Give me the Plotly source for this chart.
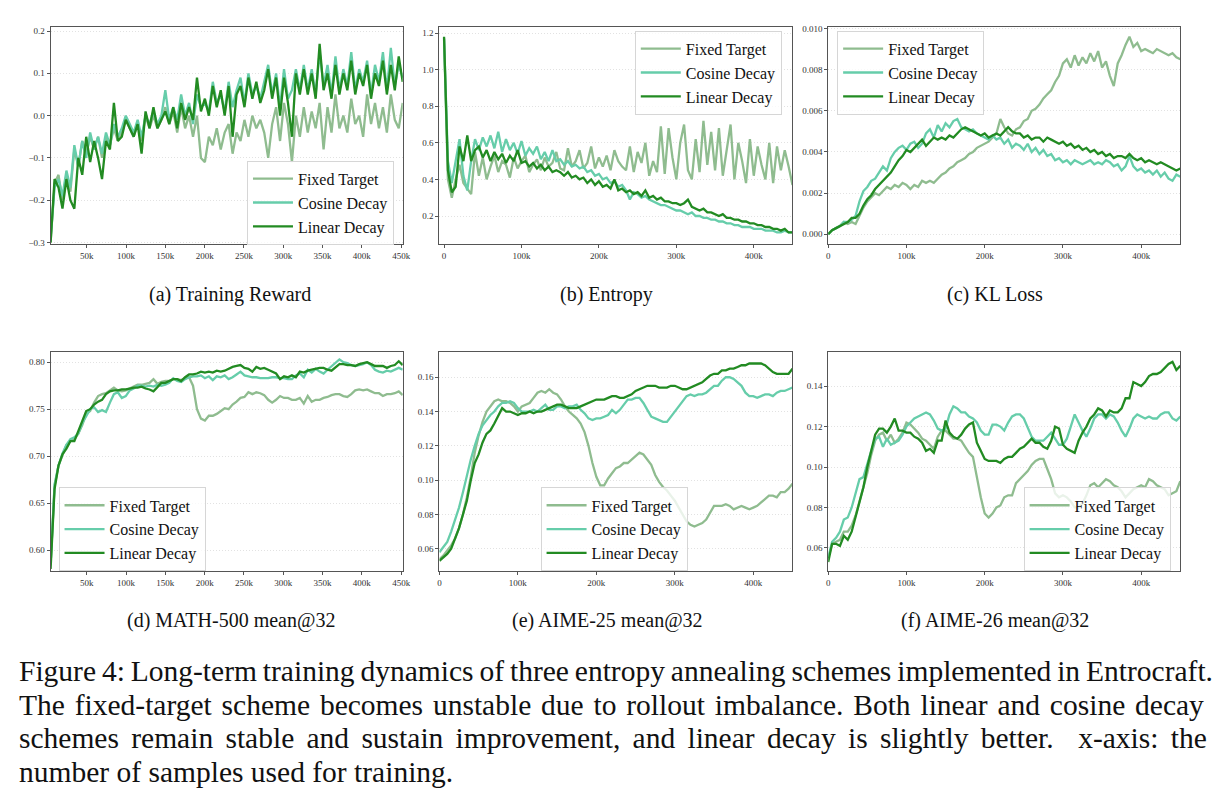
import numpy as np
import plotly.graph_objects as go

# ---------------- data ----------------
labels = ["Fixed Target", "Cosine Decay", "Linear Decay"]
colors = ["#8fbc8f", "#66cdaa", "#228b22"]

# (a) Training Reward, samples 4k..452k
reward_fixed = [-0.30, -0.16, -0.14, -0.20, -0.14, -0.18, -0.08, -0.12, -0.06, -0.09,
                -0.05, -0.08, -0.05, -0.10, -0.05, -0.07, -0.03, -0.06, -0.04, -0.01,
                -0.03, -0.05, -0.02, -0.06, 0.00, -0.03, 0.00, -0.03, -0.01, 0.02,
                -0.02, 0.01, -0.04, 0.02, -0.03, 0.00, -0.05, 0.00, -0.10, -0.11,
                -0.05, -0.07, -0.03, -0.08, -0.04, -0.02, -0.09, -0.04, -0.06, -0.01,
                -0.05, 0.00, -0.03, -0.01, -0.04, -0.10, -0.02, 0.02, -0.06, 0.03,
                -0.02, -0.11, 0.00, -0.05, 0.02, -0.04, 0.01, -0.03, 0.03, -0.08,
                0.02, -0.04, 0.05, -0.03, 0.00, -0.04, 0.04, -0.02, 0.00, -0.05,
                0.05, -0.02, 0.03, -0.03, 0.02, -0.04, 0.05, -0.01, -0.03, 0.03]
reward_cosine = [-0.29, -0.17, -0.15, -0.19, -0.13, -0.17, -0.07, -0.12, -0.06, -0.10,
                 -0.04, -0.08, -0.05, -0.09, -0.04, -0.07, -0.02, -0.05, -0.03, 0.00,
                 -0.02, -0.04, -0.01, -0.05, 0.00, -0.02, 0.01, -0.02, 0.00, 0.06,
                 -0.01, 0.02, -0.01, 0.05, 0.00, 0.03, -0.02, 0.05, 0.02, 0.03,
                 0.01, 0.08, 0.03, 0.05, 0.01, 0.08, 0.02, 0.06, 0.09, 0.03,
                 0.10, 0.05, 0.07, 0.04, 0.08, 0.12, 0.05, 0.10, 0.02, 0.11,
                 0.04, 0.06, 0.11, 0.06, 0.12, 0.06, 0.11, 0.05, 0.15, 0.07,
                 0.12, 0.05, 0.14, 0.06, 0.11, 0.07, 0.15, 0.06, 0.11, 0.08,
                 0.13, 0.05, 0.12, 0.08, 0.15, 0.06, 0.16, 0.07, 0.12, 0.09]
reward_linear = [-0.30, -0.15, -0.17, -0.22, -0.15, -0.20, -0.22, -0.10, -0.14, -0.05,
                 -0.11, -0.06, -0.10, -0.15, -0.06, -0.08, 0.03, -0.06, -0.05, -0.01,
                 -0.03, -0.05, -0.02, -0.09, 0.01, -0.03, 0.02, -0.03, -0.01, 0.01,
                 -0.02, 0.02, -0.03, 0.03, -0.01, 0.02, -0.01, 0.09, 0.01, 0.04,
                 0.00, 0.07, 0.02, 0.06, 0.00, 0.07, -0.05, 0.05, 0.07, 0.02,
                 0.09, 0.04, 0.08, 0.03, 0.06, 0.11, 0.04, 0.09, 0.00, 0.09,
                 0.03, -0.05, 0.10, 0.05, 0.11, 0.05, 0.10, 0.04, 0.17, 0.06,
                 0.10, 0.04, 0.12, 0.05, 0.10, 0.06, 0.13, 0.05, 0.10, 0.07,
                 0.12, 0.04, 0.10, 0.07, 0.13, 0.05, 0.12, 0.06, 0.14, 0.08]

# (b) Entropy, samples 0..450k
entropy_fixed = [1.17, 0.40, 0.30, 0.40, 0.48, 0.38, 0.35, 0.32, 0.55, 0.42,
                 0.52, 0.40, 0.47, 0.53, 0.44, 0.50, 0.48, 0.41, 0.52, 0.46,
                 0.50, 0.53, 0.44, 0.48, 0.51, 0.45, 0.52, 0.47, 0.49, 0.55,
                 0.46, 0.45, 0.57, 0.47, 0.50, 0.56, 0.46, 0.49, 0.58, 0.46,
                 0.52, 0.47, 0.53, 0.45, 0.56, 0.50, 0.47, 0.45, 0.58, 0.44,
                 0.55, 0.49, 0.60, 0.42, 0.50, 0.44, 0.69, 0.43, 0.68, 0.52,
                 0.40, 0.60, 0.70, 0.45, 0.40, 0.62, 0.44, 0.72, 0.48, 0.66,
                 0.45, 0.68, 0.42, 0.55, 0.70, 0.40, 0.60, 0.50, 0.38, 0.62,
                 0.42, 0.58, 0.48, 0.40, 0.60, 0.38, 0.58, 0.45, 0.56, 0.47, 0.37]
entropy_cosine = [1.17, 0.50, 0.38, 0.50, 0.62, 0.42, 0.34, 0.50, 0.62, 0.56,
                  0.63, 0.58, 0.64, 0.57, 0.66, 0.55, 0.62, 0.56, 0.60, 0.54,
                  0.61, 0.53, 0.57, 0.54, 0.58, 0.51, 0.55, 0.50, 0.56, 0.50,
                  0.51, 0.48, 0.50, 0.47, 0.48, 0.46, 0.47, 0.44, 0.45, 0.42,
                  0.43, 0.40, 0.41, 0.38, 0.39, 0.36, 0.37, 0.34, 0.29, 0.33,
                  0.32, 0.30, 0.31, 0.29, 0.28, 0.27, 0.26, 0.26, 0.25, 0.24,
                  0.23, 0.23, 0.22, 0.21, 0.22, 0.20, 0.20, 0.19, 0.19, 0.18,
                  0.18, 0.17, 0.17, 0.16, 0.16, 0.15, 0.15, 0.14, 0.14, 0.14,
                  0.13, 0.13, 0.13, 0.12, 0.12, 0.12, 0.11, 0.11, 0.12, 0.11, 0.11]
entropy_linear = [1.18, 0.45, 0.33, 0.36, 0.58, 0.50, 0.64, 0.50, 0.56, 0.58,
                  0.52, 0.56, 0.50, 0.55, 0.51, 0.54, 0.49, 0.53, 0.50, 0.56,
                  0.49, 0.50, 0.47, 0.49, 0.46, 0.48, 0.45, 0.47, 0.44, 0.45,
                  0.44, 0.42, 0.44, 0.41, 0.42, 0.40, 0.41, 0.38, 0.40, 0.37,
                  0.39, 0.36, 0.37, 0.35, 0.40, 0.34, 0.35, 0.33, 0.34, 0.32,
                  0.33, 0.31, 0.34, 0.30, 0.31, 0.29, 0.30, 0.28, 0.28, 0.27,
                  0.27, 0.26, 0.27, 0.29, 0.25, 0.24, 0.23, 0.24, 0.22, 0.22,
                  0.21, 0.20, 0.21, 0.19, 0.19, 0.18, 0.18, 0.17, 0.17, 0.16,
                  0.16, 0.15, 0.15, 0.14, 0.14, 0.13, 0.13, 0.12, 0.13, 0.11, 0.11]

# (c) KL Loss, samples 0..450k
kl_fixed = [0.0000, 0.0002, 0.0003, 0.0004, 0.0006, 0.0005, 0.0006, 0.0005, 0.0009, 0.0013,
            0.0016, 0.0018, 0.0020, 0.0019, 0.0021, 0.0023, 0.0022, 0.0024, 0.0023, 0.0025,
            0.0024, 0.0022, 0.0024, 0.0023, 0.0026, 0.0025, 0.0026, 0.0025, 0.0027, 0.0029,
            0.0030, 0.0032, 0.0033, 0.0035, 0.0036, 0.0037, 0.0039, 0.0040, 0.0042, 0.0043,
            0.0044, 0.0045, 0.0047, 0.0049, 0.0056, 0.0052, 0.0049, 0.0048, 0.0051, 0.0052,
            0.0055, 0.0056, 0.0060, 0.0061, 0.0063, 0.0066, 0.0068, 0.0070, 0.0074, 0.0077,
            0.0083, 0.0085, 0.0081, 0.0087, 0.0082, 0.0086, 0.0083, 0.0088, 0.0084, 0.0089,
            0.0081, 0.0084, 0.0077, 0.0072, 0.0083, 0.0087, 0.0092, 0.0096, 0.0091, 0.0093,
            0.0089, 0.0090, 0.0089, 0.0088, 0.0090, 0.0089, 0.0088, 0.0087, 0.0088, 0.0086, 0.0085]
kl_cosine = [0.0000, 0.0002, 0.0003, 0.0004, 0.0006, 0.0006, 0.0007, 0.0009, 0.0016, 0.0021,
             0.0023, 0.0026, 0.0027, 0.0030, 0.0033, 0.0031, 0.0037, 0.0040, 0.0042, 0.0043,
             0.0041, 0.0044, 0.0045, 0.0042, 0.0044, 0.0049, 0.0051, 0.0047, 0.0053, 0.0050,
             0.0054, 0.0052, 0.0055, 0.0056, 0.0052, 0.0051, 0.0050, 0.0051, 0.0049, 0.0048,
             0.0047, 0.0046, 0.0048, 0.0046, 0.0047, 0.0044, 0.0046, 0.0042, 0.0044, 0.0043,
             0.0041, 0.0044, 0.0040, 0.0042, 0.0039, 0.0041, 0.0038, 0.0039, 0.0036, 0.0037,
             0.0035, 0.0036, 0.0034, 0.0036, 0.0035, 0.0034, 0.0035, 0.0036, 0.0034, 0.0035,
             0.0034, 0.0036, 0.0035, 0.0033, 0.0034, 0.0031, 0.0033, 0.0038, 0.0033, 0.0031,
             0.0032, 0.0030, 0.0031, 0.0029, 0.0031, 0.0028, 0.0030, 0.0027, 0.0026, 0.0029, 0.0028]
kl_linear = [0.0000, 0.0002, 0.0003, 0.0004, 0.0005, 0.0006, 0.0008, 0.0008, 0.0010, 0.0014,
             0.0017, 0.0019, 0.0022, 0.0024, 0.0026, 0.0028, 0.0030, 0.0033, 0.0036, 0.0038,
             0.0041, 0.0040, 0.0042, 0.0044, 0.0046, 0.0043, 0.0045, 0.0047, 0.0046, 0.0047,
             0.0046, 0.0048, 0.0047, 0.0049, 0.0051, 0.0052, 0.0051, 0.0050, 0.0049, 0.0048,
             0.0049, 0.0047, 0.0048, 0.0049, 0.0048, 0.0050, 0.0052, 0.0050, 0.0049, 0.0049,
             0.0047, 0.0048, 0.0046, 0.0047, 0.0047, 0.0045, 0.0047, 0.0046, 0.0045, 0.0044,
             0.0045, 0.0043, 0.0044, 0.0042, 0.0043, 0.0041, 0.0042, 0.0040, 0.0041, 0.0039,
             0.0040, 0.0038, 0.0039, 0.0037, 0.0038, 0.0038, 0.0037, 0.0039, 0.0037, 0.0036,
             0.0037, 0.0035, 0.0036, 0.0035, 0.0034, 0.0035, 0.0034, 0.0033, 0.0032, 0.0031, 0.0032]

# (d) MATH-500 mean@32, samples 4k..452k
math_fixed = [0.585, 0.668, 0.690, 0.702, 0.712, 0.716, 0.718, 0.724, 0.733, 0.745,
              0.748, 0.757, 0.764, 0.766, 0.767, 0.770, 0.773, 0.770, 0.769, 0.770,
              0.772, 0.774, 0.776, 0.776, 0.777, 0.778, 0.782, 0.777, 0.779, 0.780,
              0.780, 0.782, 0.782, 0.781, 0.783, 0.784, 0.775, 0.750, 0.740, 0.738,
              0.743, 0.743, 0.745, 0.748, 0.751, 0.750, 0.755, 0.758, 0.762, 0.763,
              0.768, 0.766, 0.768, 0.767, 0.765, 0.760, 0.757, 0.760, 0.764, 0.762,
              0.762, 0.760, 0.760, 0.762, 0.756, 0.764, 0.758, 0.760, 0.760, 0.762,
              0.763, 0.765, 0.766, 0.766, 0.764, 0.763, 0.766, 0.770, 0.771, 0.770,
              0.771, 0.769, 0.767, 0.767, 0.764, 0.766, 0.766, 0.767, 0.769, 0.765]
math_cosine = [0.585, 0.670, 0.690, 0.703, 0.712, 0.718, 0.720, 0.724, 0.735, 0.743,
               0.750, 0.752, 0.747, 0.749, 0.747, 0.757, 0.766, 0.768, 0.762, 0.764,
               0.770, 0.772, 0.775, 0.775, 0.774, 0.775, 0.774, 0.776, 0.775, 0.776,
               0.778, 0.783, 0.780, 0.779, 0.782, 0.784, 0.785, 0.785, 0.786, 0.783,
               0.785, 0.781, 0.785, 0.784, 0.786, 0.782, 0.784, 0.787, 0.790, 0.786,
               0.785, 0.784, 0.784, 0.783, 0.783, 0.783, 0.784, 0.784, 0.783, 0.783,
               0.782, 0.782, 0.786, 0.788, 0.784, 0.792, 0.789, 0.793, 0.790, 0.788,
               0.792, 0.796, 0.800, 0.803, 0.800, 0.799, 0.797, 0.796, 0.797, 0.798,
               0.800, 0.797, 0.792, 0.790, 0.789, 0.791, 0.790, 0.792, 0.794, 0.792]
math_linear = [0.580, 0.665, 0.690, 0.702, 0.708, 0.716, 0.716, 0.726, 0.737, 0.748,
               0.750, 0.755, 0.758, 0.760, 0.766, 0.769, 0.770, 0.770, 0.771, 0.771,
               0.772, 0.773, 0.773, 0.774, 0.772, 0.771, 0.769, 0.774, 0.778, 0.778,
               0.780, 0.782, 0.782, 0.780, 0.784, 0.787, 0.787, 0.788, 0.790, 0.789,
               0.790, 0.789, 0.791, 0.790, 0.791, 0.793, 0.795, 0.796, 0.797, 0.794,
               0.793, 0.790, 0.795, 0.793, 0.794, 0.792, 0.790, 0.788, 0.782, 0.785,
               0.784, 0.786, 0.784, 0.790, 0.789, 0.791, 0.792, 0.793, 0.794, 0.794,
               0.792, 0.791, 0.795, 0.798, 0.798, 0.797, 0.797, 0.796, 0.798, 0.799,
               0.800, 0.798, 0.796, 0.796, 0.796, 0.794, 0.796, 0.797, 0.801, 0.797]

# (e) AIME-25 mean@32, samples 0..450k
aime25_fixed = [0.054, 0.056, 0.059, 0.062, 0.066, 0.072, 0.080, 0.090, 0.102, 0.116,
                0.126, 0.134, 0.140, 0.143, 0.146, 0.147, 0.146, 0.146, 0.145, 0.143,
                0.140, 0.143, 0.144, 0.145, 0.148, 0.151, 0.152, 0.151, 0.153, 0.151,
                0.150, 0.147, 0.143, 0.140, 0.138, 0.136, 0.133, 0.128, 0.120, 0.110,
                0.102, 0.097, 0.097, 0.101, 0.104, 0.107, 0.108, 0.110, 0.110, 0.112,
                0.114, 0.116, 0.115, 0.112, 0.109, 0.103, 0.099, 0.096, 0.094, 0.091,
                0.088, 0.084, 0.080, 0.076, 0.074, 0.073, 0.074, 0.075, 0.077, 0.081,
                0.085, 0.085, 0.085, 0.086, 0.085, 0.083, 0.084, 0.085, 0.084, 0.083,
                0.084, 0.085, 0.087, 0.089, 0.091, 0.091, 0.090, 0.093, 0.093, 0.095, 0.098]
aime25_cosine = [0.058, 0.061, 0.064, 0.070, 0.077, 0.084, 0.093, 0.103, 0.112, 0.120,
                 0.127, 0.132, 0.135, 0.138, 0.140, 0.143, 0.145, 0.145, 0.146, 0.145,
                 0.142, 0.140, 0.140, 0.140, 0.141, 0.140, 0.142, 0.144, 0.141, 0.141,
                 0.143, 0.143, 0.142, 0.143, 0.143, 0.144, 0.141, 0.139, 0.136, 0.135,
                 0.136, 0.136, 0.137, 0.138, 0.141, 0.139, 0.141, 0.144, 0.147, 0.147,
                 0.148, 0.148, 0.145, 0.141, 0.137, 0.136, 0.135, 0.134, 0.134, 0.137,
                 0.140, 0.143, 0.146, 0.149, 0.150, 0.149, 0.150, 0.150, 0.151, 0.153,
                 0.155, 0.155, 0.158, 0.160, 0.160, 0.159, 0.157, 0.155, 0.151, 0.149,
                 0.149, 0.148, 0.149, 0.150, 0.150, 0.149, 0.151, 0.152, 0.152, 0.153, 0.154]
aime25_linear = [0.053, 0.055, 0.057, 0.060, 0.066, 0.072, 0.080, 0.088, 0.100, 0.110,
                 0.115, 0.122, 0.127, 0.129, 0.133, 0.138, 0.142, 0.140, 0.140, 0.139,
                 0.138, 0.139, 0.139, 0.140, 0.139, 0.140, 0.140, 0.141, 0.142, 0.143,
                 0.144, 0.144, 0.143, 0.142, 0.142, 0.142, 0.143, 0.144, 0.145, 0.146,
                 0.147, 0.147, 0.147, 0.148, 0.149, 0.149, 0.148, 0.148, 0.149, 0.150,
                 0.152, 0.153, 0.154, 0.155, 0.155, 0.155, 0.154, 0.154, 0.154, 0.155,
                 0.155, 0.154, 0.153, 0.153, 0.154, 0.155, 0.156, 0.157, 0.159, 0.161,
                 0.162, 0.162, 0.164, 0.164, 0.165, 0.165, 0.166, 0.167, 0.167, 0.168,
                 0.168, 0.168, 0.168, 0.167, 0.165, 0.163, 0.162, 0.162, 0.162, 0.162, 0.165]

# (f) AIME-26 mean@32, samples 0..450k
aime26_fixed = [0.055, 0.062, 0.063, 0.064, 0.068, 0.068, 0.071, 0.076, 0.083, 0.090,
                0.097, 0.106, 0.113, 0.116, 0.117, 0.113, 0.116, 0.112, 0.114, 0.117,
                0.122, 0.121, 0.119, 0.117, 0.114, 0.113, 0.111, 0.109, 0.115, 0.118,
                0.118, 0.116, 0.114, 0.114, 0.113, 0.110, 0.107, 0.105, 0.095, 0.085,
                0.077, 0.075, 0.077, 0.080, 0.081, 0.085, 0.086, 0.086, 0.092, 0.094,
                0.096, 0.098, 0.101, 0.103, 0.104, 0.104, 0.099, 0.094, 0.087, 0.085,
                0.086, 0.085, 0.083, 0.080, 0.080, 0.082, 0.086, 0.091, 0.092, 0.090,
                0.092, 0.094, 0.093, 0.091, 0.090, 0.088, 0.085, 0.087, 0.089, 0.090,
                0.091, 0.090, 0.094, 0.093, 0.091, 0.090, 0.089, 0.086, 0.087, 0.088, 0.093]
aime26_cosine = [0.055, 0.063, 0.065, 0.068, 0.074, 0.075, 0.080, 0.087, 0.094, 0.095,
                 0.102, 0.108, 0.114, 0.115, 0.110, 0.114, 0.111, 0.112, 0.113, 0.116,
                 0.120, 0.122, 0.124, 0.125, 0.126, 0.127, 0.126, 0.123, 0.119, 0.118,
                 0.119, 0.126, 0.130, 0.129, 0.127, 0.127, 0.125, 0.124, 0.122, 0.118,
                 0.116, 0.116, 0.121, 0.121, 0.120, 0.118, 0.122, 0.125, 0.126, 0.126,
                 0.124, 0.119, 0.115, 0.113, 0.113, 0.113, 0.115, 0.117, 0.114, 0.111,
                 0.111, 0.114, 0.120, 0.126, 0.122, 0.118, 0.115, 0.119, 0.124, 0.126,
                 0.126, 0.124, 0.126, 0.125, 0.122, 0.118, 0.115, 0.119, 0.124, 0.126,
                 0.125, 0.124, 0.125, 0.124, 0.124, 0.126, 0.127, 0.127, 0.124, 0.123, 0.125]
aime26_linear = [0.053, 0.062, 0.062, 0.061, 0.066, 0.064, 0.068, 0.075, 0.083, 0.090,
                 0.100, 0.108, 0.116, 0.119, 0.119, 0.117, 0.120, 0.124, 0.118, 0.118,
                 0.117, 0.117, 0.115, 0.114, 0.112, 0.108, 0.109, 0.107, 0.113, 0.113,
                 0.123, 0.117, 0.115, 0.114, 0.116, 0.119, 0.121, 0.122, 0.112, 0.108,
                 0.104, 0.103, 0.103, 0.103, 0.102, 0.104, 0.105, 0.105, 0.107, 0.109,
                 0.110, 0.112, 0.114, 0.112, 0.112, 0.110, 0.109, 0.113, 0.120, 0.119,
                 0.111, 0.109, 0.108, 0.107, 0.113, 0.117, 0.120, 0.124, 0.126, 0.129,
                 0.128, 0.125, 0.128, 0.127, 0.127, 0.129, 0.134, 0.134, 0.142, 0.141,
                 0.140, 0.142, 0.145, 0.146, 0.146, 0.147, 0.149, 0.151, 0.152, 0.148, 0.150]

subcaptions = ["(a) Training Reward", "(b) Entropy", "(c) KL Loss",
               "(d) MATH-500 mean@32", "(e) AIME-25 mean@32", "(f) AIME-26 mean@32"]
caption_lines = [
    "Figure 4: Long-term training dynamics of three entropy annealing schemes implemented in Entrocraft.",
    "The fixed-target scheme becomes unstable due to rollout imbalance. Both linear and cosine decay",
    "schemes remain stable and sustain improvement, and linear decay is slightly better.  x-axis: the",
    "number of samples used for training.",
]

# ---------------- layout helpers ----------------
W, H = 1225, 803
FONT = "'Liberation Serif', 'Times New Roman', Times, 'DejaVu Serif', serif"

def px_x(p):
    return p / W

def px_y(p):
    return 1 - p / H

x_from4 = lambda n: list(np.linspace(4000, 452000, n))
x_from0 = lambda n: [5000 * i for i in range(n)]

panels = [
    dict(series=[reward_fixed, reward_cosine, reward_linear], xs=x_from4, xr=[4000, 452000],
         yr=[-0.304, 0.21], yt=[-0.3, -0.2, -0.1, 0.0, 0.1, 0.2], yf=".1f",
         xt=[50000 * k for k in range(1, 10)], box=(49, 404, 24, 243), leg=(247, 159)),
    dict(series=[entropy_fixed, entropy_cosine, entropy_linear], xs=x_from0, xr=[-6000, 450000],
         yr=[0.046, 1.234], yt=[0.2, 0.4, 0.6, 0.8, 1.0, 1.2], yf=".1f",
         xt=[0, 100000, 200000, 300000, 400000], box=(441, 797, 24, 243), leg=(638, 28)),
    dict(series=[kl_fixed, kl_cosine, kl_linear], xs=x_from0, xr=[0, 450000],
         yr=[-0.00048, 0.01008], yt=[0.0, 0.002, 0.004, 0.006, 0.008, 0.010], yf=".3f",
         xt=[0, 100000, 200000, 300000, 400000], box=(833, 1188, 24, 243), leg=(842, 28)),
    dict(series=[math_fixed, math_cosine, math_linear], xs=x_from4, xr=[4000, 452000],
         yr=[0.578, 0.8105], yt=[0.60, 0.65, 0.70, 0.75, 0.80], yf=".2f",
         xt=[50000 * k for k in range(1, 10)], box=(49, 404, 352, 572), leg=(57, 488)),
    dict(series=[aime25_fixed, aime25_cosine, aime25_linear], xs=x_from0, xr=[0, 450000],
         yr=[0.0472, 0.1745], yt=[0.06, 0.08, 0.10, 0.12, 0.14, 0.16], yf=".2f",
         xt=[0, 100000, 200000, 300000, 400000], box=(441, 797, 352, 572), leg=(543, 488)),
    dict(series=[aime26_fixed, aime26_cosine, aime26_linear], xs=x_from0, xr=[0, 450000],
         yr=[0.0487, 0.1567], yt=[0.06, 0.08, 0.10, 0.12, 0.14], yf=".2f",
         xt=[0, 100000, 200000, 300000, 400000], box=(833, 1188, 352, 572), leg=(1030, 488)),
]
caption_pos = [(230, 294), (609, 294), (1001, 294), (231, 622), (610, 622), (1001, 622)]
# inter-word separators imitating the justified caption lines
caption_sep = ["\u2009", " \u200a", " \u2006", " "]

fig = go.Figure()
layout = dict(width=W, height=H, margin=dict(l=0, r=0, t=0, b=0), autosize=False,
              paper_bgcolor="white", plot_bgcolor="white",
              font=dict(family=FONT, color="#222"), annotations=[])

for i, p in enumerate(panels):
    n = i + 1
    xa = "x" if n == 1 else f"x{n}"
    ya = "y" if n == 1 else f"y{n}"
    lg = "legend" if n == 1 else f"legend{n}"
    for s, (vals, lab, col) in enumerate(zip(p["series"], labels, colors)):
        fig.add_trace(go.Scatter(x=p["xs"](len(vals)), y=vals, mode="lines", name=lab,
                                 line=dict(color=col, width=2.3), xaxis=xa, yaxis=ya,
                                 legend=lg, showlegend=True))
    x0, x1, y0, y1 = p["box"]
    xt = p["xt"]
    xtt = ["0" if v == 0 else f"{v // 1000}k" for v in xt]
    axis_common = dict(showline=True, mirror=True, linecolor="#555", linewidth=1,
                       ticks="outside", ticklen=3, tickwidth=0.8, tickcolor="#555",
                       tickfont=dict(family=FONT, size=9, color="#333"), zeroline=False)
    layout["xaxis" if n == 1 else f"xaxis{n}"] = dict(
        domain=[px_x(x0), px_x(x1)], range=p["xr"], anchor=ya, tickvals=xt, ticktext=xtt,
        showgrid=False, **axis_common)
    layout["yaxis" if n == 1 else f"yaxis{n}"] = dict(
        domain=[px_y(y1), px_y(y0)], range=p["yr"], anchor=xa, tickvals=p["yt"],
        tickformat=p["yf"], showgrid=True, gridcolor="#e2e2e2", gridwidth=0.8,
        griddash="1px,2px", **axis_common)
    lx, ly = p["leg"]
    layout[lg] = dict(x=px_x(lx), y=px_y(ly), xanchor="left", yanchor="top",
                      xref="paper", yref="paper",
                      bgcolor="rgba(255,255,255,0.8)", bordercolor="#d6d6d6", borderwidth=1,
                      font=dict(family=FONT, size=16, color="#111"), itemwidth=40,
                      traceorder="normal")
    cx, cy = caption_pos[i]
    layout["annotations"].append(dict(text=subcaptions[i], x=px_x(cx), y=px_y(cy),
                                      xref="paper", yref="paper", showarrow=False,
                                      xanchor="center", yanchor="middle",
                                      font=dict(family=FONT, size=20, color="#111")))

for k, line in enumerate(caption_lines):
    txt = line.replace(" ", caption_sep[k])
    layout["annotations"].append(dict(text=txt, x=px_x(15), y=px_y(673 + 34 * k),
                                      xref="paper", yref="paper", showarrow=False,
                                      xanchor="left", yanchor="middle",
                                      font=dict(family=FONT, size=29.5, color="#111")))

fig.update_layout(**layout)
fig.write_html("out.html")
